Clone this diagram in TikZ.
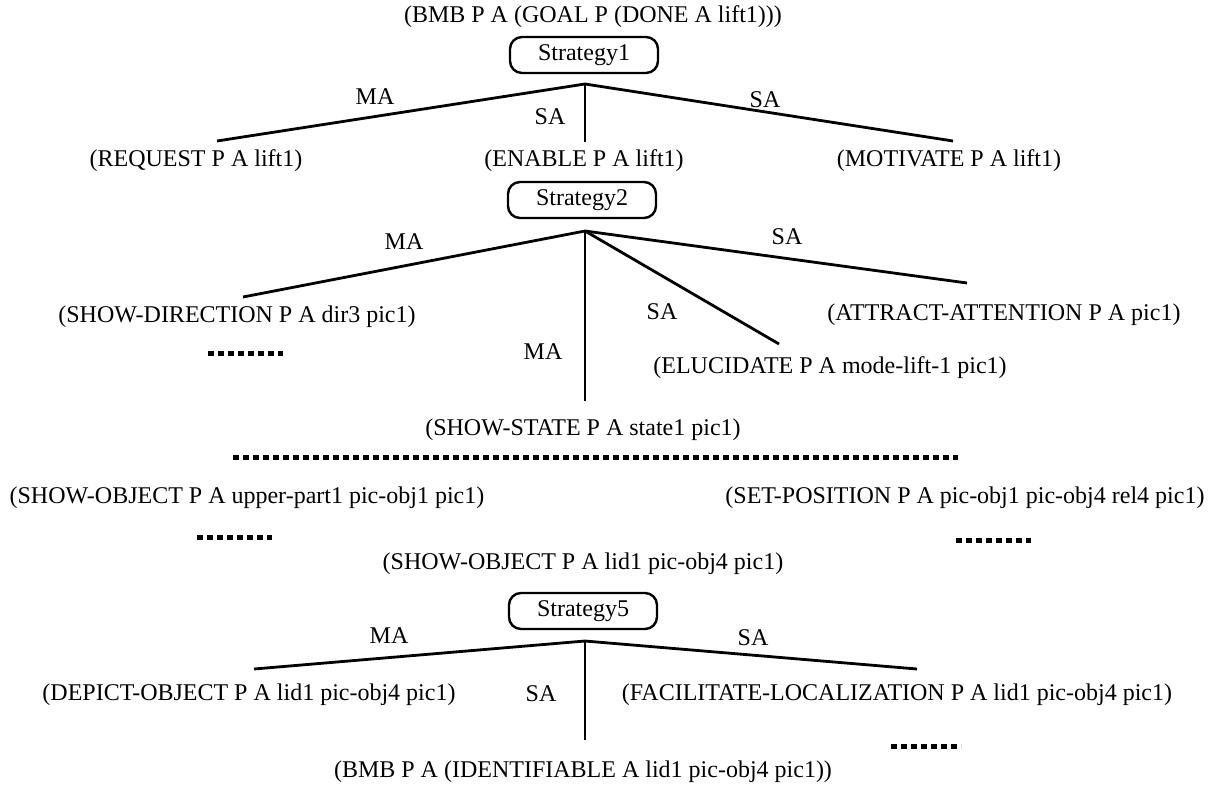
\documentclass[tikz,border=0pt]{standalone}
\usepackage{fontspec}
\setmainfont{Liberation Serif}
\begin{document}
\begin{tikzpicture}[x=1pt,y=-1pt,
  lbl/.style={font=\fontsize{24}{28}\selectfont, inner sep=0pt, anchor=center},
  strat/.style={draw, line width=2.4pt, rounded corners=12pt, minimum width=148pt, minimum height=36pt, inner sep=0pt, font=\fontsize{24}{28}\selectfont},
  edge/.style={line width=2.8pt},
  dotline/.style={line width=5pt, dash pattern=on 6pt off 4pt}]
\useasboundingbox (0,0) rectangle (1215,787);
% tree 1
\node[lbl] (t0) at (593,17) {(BMB P A (GOAL P (DONE A lift1)))};
\node[strat] (s1) at (584,55) {Strategy1};
\coordinate (r1) at (585,84);
\coordinate (e1a) at (217,141);
\coordinate (e1b) at (585,142);
\coordinate (e1c) at (953,141);
\draw[edge] (e1a) -- (r1) -- (e1c);
\draw[edge] (r1) -- (e1b);
\node[lbl] (l1a) at (375,97) {MA};
\node[lbl] (l1b) at (550,117) {SA};
\node[lbl] (l1c) at (765,100) {SA};
\node[lbl] (c1a) at (196,161) {(REQUEST P A lift1)};
\node[lbl] (c1b) at (584,161) {(ENABLE P A lift1)};
\node[lbl] (c1c) at (949,161) {(MOTIVATE P A lift1)};
% tree 2
\node[strat] (s2) at (582,200) {Strategy2};
\coordinate (r2) at (585,231);
\coordinate (e2a) at (243,297);
\coordinate (e2b) at (585,401);
\coordinate (e2c) at (779,344);
\coordinate (e2d) at (967,283);
\draw[edge] (e2a) -- (r2) -- (e2d);
\draw[edge] (r2) -- (e2b);
\draw[edge] (r2) -- (e2c);
\node[lbl] (l2a) at (404,242) {MA};
\node[lbl] (l2b) at (543,352) {MA};
\node[lbl] (l2c) at (662,312) {SA};
\node[lbl] (l2d) at (787,237) {SA};
\node[lbl] (c2a) at (237,317) {(SHOW-DIRECTION P A dir3 pic1)};
\node[lbl] (c2d) at (1004,315) {(ATTRACT-ATTENTION P A pic1)};
\node[lbl] (c2c) at (830,368) {(ELUCIDATE P A mode-lift-1 pic1)};
\node[lbl] (c2b) at (583,430) {(SHOW-STATE P A state1 pic1)};
\coordinate (d1s) at (208,353); \coordinate (d1e) at (283,353);
\draw[dotline] (d1s) -- (d1e);
\coordinate (d2s) at (233,457); \coordinate (d2e) at (958,457);
\draw[dotline] (d2s) -- (d2e);
% middle rows
\node[lbl] (m1) at (247,498) {(SHOW-OBJECT P A upper-part1 pic-obj1 pic1)};
\node[lbl] (m2) at (965,498) {(SET-POSITION P A pic-obj1 pic-obj4 rel4 pic1)};
\coordinate (d3s) at (197,537); \coordinate (d3e) at (272,537);
\draw[dotline] (d3s) -- (d3e);
\coordinate (d4s) at (956,540); \coordinate (d4e) at (1031,540);
\draw[dotline] (d4s) -- (d4e);
% tree 3
\node[lbl] (t5) at (583,564) {(SHOW-OBJECT P A lid1 pic-obj4 pic1)};
\node[strat] (s5) at (583,611) {Strategy5};
\coordinate (r5) at (585,641);
\coordinate (e5a) at (254,669);
\coordinate (e5b) at (585,740);
\coordinate (e5c) at (917,669);
\draw[edge] (e5a) -- (r5) -- (e5c);
\draw[edge] (r5) -- (e5b);
\node[lbl] (l5a) at (389,636) {MA};
\node[lbl] (l5b) at (541,694) {SA};
\node[lbl] (l5c) at (753,638) {SA};
\node[lbl] (c5a) at (249,695) {(DEPICT-OBJECT P A lid1 pic-obj4 pic1)};
\node[lbl] (c5c) at (897,695) {(FACILITATE-LOCALIZATION P A lid1 pic-obj4 pic1)};
\coordinate (d5s) at (891,746); \coordinate (d5e) at (961,746);
\draw[dotline] (d5s) -- (d5e);
\node[lbl] (c5b) at (583,772) {(BMB P A (IDENTIFIABLE A lid1 pic-obj4 pic1))};
\end{tikzpicture}
\end{document}
